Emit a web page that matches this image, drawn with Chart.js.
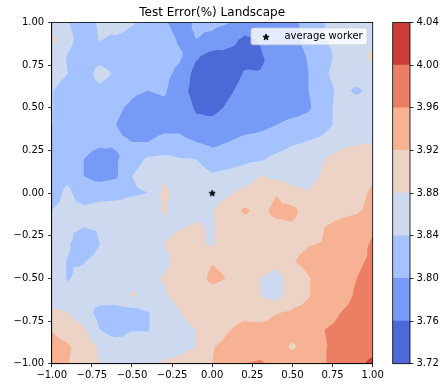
<!DOCTYPE html>
<html>
<head>
<meta charset="utf-8">
<script src="https://cdn.jsdelivr.net/npm/chart.js@4.4.0/dist/chart.umd.min.js"></script>
<style>
  html, body { margin: 0; padding: 0; background: #fff; }
  #wrap { position: relative; width: 441px; height: 385px; }
  #main { position: absolute; left: 0; top: 0; }
  #cbar { position: absolute; left: 380px; top: 0; }
</style>
</head>
<body>
<div id="wrap">
  <canvas id="main" width="441" height="385"></canvas>
  <canvas id="cbar" width="61" height="385"></canvas>
</div>
<script>
// Sample grid of the loss landscape (step 0.1 on both directions)
const gridX = [-1.0, -0.9, -0.8, -0.7, -0.6, -0.5, -0.4, -0.3, -0.2, -0.1, 0.0, 0.1, 0.2, 0.3, 0.4, 0.5, 0.6, 0.7, 0.8, 0.9, 1.0];
const gridY = [1.0, 0.9, 0.8, 0.7, 0.6, 0.5, 0.4, 0.3, 0.2, 0.1, 0.0, -0.1, -0.2, -0.3, -0.4, -0.5, -0.6, -0.7, -0.8, -0.9, -1.0];

// Test error (%) at each grid point; one row per gridY value, one column per gridX value
const testError = [
  [3.860, 3.842, 3.820, 3.845, 3.870, 3.845, 3.820, 3.805, 3.785, 3.805, 3.810, 3.802, 3.775, 3.780, 3.780, 3.790, 3.815, 3.840, 3.855, 3.860, 3.850],
  [3.890, 3.850, 3.825, 3.842, 3.830, 3.820, 3.820, 3.815, 3.795, 3.800, 3.790, 3.770, 3.755, 3.762, 3.780, 3.790, 3.810, 3.838, 3.855, 3.860, 3.865],
  [3.860, 3.838, 3.820, 3.825, 3.820, 3.815, 3.810, 3.815, 3.805, 3.765, 3.745, 3.750, 3.752, 3.757, 3.772, 3.790, 3.802, 3.825, 3.855, 3.865, 3.890],
  [3.855, 3.840, 3.820, 3.855, 3.835, 3.810, 3.805, 3.810, 3.790, 3.745, 3.740, 3.745, 3.762, 3.761, 3.760, 3.785, 3.800, 3.835, 3.855, 3.860, 3.860],
  [3.842, 3.825, 3.820, 3.830, 3.815, 3.805, 3.800, 3.805, 3.775, 3.745, 3.740, 3.755, 3.770, 3.775, 3.780, 3.785, 3.800, 3.825, 3.850, 3.834, 3.850],
  [3.842, 3.820, 3.815, 3.810, 3.805, 3.795, 3.785, 3.790, 3.785, 3.755, 3.750, 3.765, 3.775, 3.780, 3.780, 3.785, 3.795, 3.825, 3.855, 3.860, 3.860],
  [3.842, 3.820, 3.815, 3.810, 3.800, 3.790, 3.785, 3.790, 3.790, 3.770, 3.770, 3.780, 3.785, 3.790, 3.800, 3.810, 3.815, 3.830, 3.850, 3.855, 3.860],
  [3.830, 3.820, 3.815, 3.810, 3.805, 3.800, 3.800, 3.810, 3.810, 3.800, 3.790, 3.800, 3.810, 3.815, 3.820, 3.835, 3.842, 3.850, 3.870, 3.875, 3.878],
  [3.825, 3.820, 3.800, 3.780, 3.795, 3.825, 3.845, 3.850, 3.842, 3.840, 3.820, 3.825, 3.830, 3.835, 3.850, 3.860, 3.865, 3.880, 3.895, 3.900, 3.905],
  [3.825, 3.830, 3.800, 3.790, 3.795, 3.840, 3.855, 3.875, 3.860, 3.855, 3.845, 3.850, 3.860, 3.882, 3.870, 3.865, 3.870, 3.885, 3.895, 3.905, 3.915],
  [3.820, 3.850, 3.815, 3.820, 3.825, 3.835, 3.840, 3.890, 3.860, 3.860, 3.865, 3.875, 3.890, 3.900, 3.918, 3.890, 3.882, 3.895, 3.900, 3.910, 3.925],
  [3.840, 3.850, 3.850, 3.860, 3.860, 3.860, 3.865, 3.883, 3.865, 3.870, 3.878, 3.900, 3.925, 3.910, 3.930, 3.930, 3.900, 3.905, 3.910, 3.915, 3.930],
  [3.855, 3.850, 3.840, 3.845, 3.860, 3.865, 3.865, 3.870, 3.878, 3.884, 3.876, 3.900, 3.905, 3.910, 3.910, 3.915, 3.905, 3.920, 3.930, 3.935, 3.955],
  [3.855, 3.845, 3.810, 3.840, 3.860, 3.865, 3.870, 3.880, 3.895, 3.885, 3.877, 3.900, 3.905, 3.910, 3.905, 3.910, 3.918, 3.922, 3.940, 3.945, 3.965],
  [3.860, 3.838, 3.838, 3.855, 3.860, 3.865, 3.870, 3.870, 3.895, 3.900, 3.918, 3.910, 3.900, 3.900, 3.895, 3.918, 3.930, 3.940, 3.940, 3.955, 3.965],
  [3.860, 3.838, 3.850, 3.860, 3.865, 3.870, 3.875, 3.882, 3.895, 3.900, 3.930, 3.918, 3.900, 3.880, 3.865, 3.900, 3.918, 3.935, 3.945, 3.960, 3.970],
  [3.855, 3.850, 3.855, 3.860, 3.865, 3.883, 3.870, 3.877, 3.890, 3.900, 3.900, 3.900, 3.900, 3.880, 3.865, 3.900, 3.918, 3.935, 3.945, 3.965, 3.970],
  [3.890, 3.880, 3.860, 3.825, 3.820, 3.825, 3.838, 3.860, 3.880, 3.895, 3.900, 3.905, 3.910, 3.900, 3.918, 3.925, 3.930, 3.940, 3.960, 3.970, 3.975],
  [3.918, 3.900, 3.885, 3.840, 3.815, 3.838, 3.838, 3.860, 3.870, 3.880, 3.900, 3.918, 3.930, 3.935, 3.935, 3.935, 3.940, 3.960, 3.970, 3.975, 3.980],
  [3.935, 3.925, 3.900, 3.875, 3.870, 3.860, 3.860, 3.865, 3.870, 3.880, 3.918, 3.930, 3.935, 3.945, 3.935, 3.915, 3.935, 3.958, 3.970, 3.980, 3.985],
  [3.935, 3.922, 3.900, 3.880, 3.870, 3.865, 3.875, 3.884, 3.890, 3.900, 3.920, 3.935, 3.960, 3.965, 3.945, 3.940, 3.945, 3.958, 3.980, 3.990, 4.010]
];

// Contour levels and the fill colour of each band between them
const levels = [3.72, 3.76, 3.80, 3.84, 3.88, 3.92, 3.96, 4.00, 4.04];
const bandColors = ['#4d68d7', '#779af7', '#a3c2ff', '#ccd9ee', '#ecd3c5', '#f7b193', '#ec7f63', '#cb3e38'];

// Axis tick positions
const axisTicks = [-1.0, -0.75, -0.5, -0.25, 0.0, 0.25, 0.5, 0.75, 1.0];

// The averaged worker's position
const workerX = [0.0];
const workerY = [0.0];

const FONT = '"DejaVu Sans", "Liberation Sans", sans-serif';
const fmt = v => (Math.abs(v) < 1e-9 ? 0 : v).toFixed(2).replace('-', '\u2212');

// Filled five-pointed star used as the marker
const starMarker = (() => {
  const c = document.createElement('canvas');
  c.width = 10; c.height = 10;
  const g = c.getContext('2d');
  g.beginPath();
  for (let k = 0; k < 10; k++) {
    const r = k % 2 === 0 ? 3.3 : 3.3 * 0.381966;
    const a = -Math.PI / 2 + k * Math.PI / 5;
    const px = 5 + r * Math.cos(a), py = 5.3 + r * Math.sin(a);
    if (k === 0) g.moveTo(px, py); else g.lineTo(px, py);
  }
  g.closePath();
  g.fillStyle = '#000'; g.fill();
  g.lineWidth = 0.9; g.strokeStyle = '#000'; g.stroke();
  return c;
})();

// Keep the part of a triangle whose linearly interpolated value is >= t
function clipAbove(poly, t) {
  const out = [];
  for (let k = 0; k < poly.length; k++) {
    const a = poly[k], b = poly[(k + 1) % poly.length];
    const ina = a[2] >= t, inb = b[2] >= t;
    if (ina) out.push(a);
    if (ina !== inb) {
      const f = (t - a[2]) / (b[2] - a[2]);
      out.push([a[0] + f * (b[0] - a[0]), a[1] + f * (b[1] - a[1]), t]);
    }
  }
  return out;
}

// Filled contours, drawn band by band (each band covers everything above its lower level)
const filledContour = {
  id: 'filledContour',
  beforeDraw(chart) {
    const { ctx, chartArea: area, scales: { x, y } } = chart;
    ctx.save();
    ctx.beginPath();
    ctx.rect(area.left, area.top, area.right - area.left, area.bottom - area.top);
    ctx.clip();
    for (let b = 0; b < bandColors.length; b++) {
      const t = levels[b];
      ctx.beginPath();
      for (let j = 0; j < gridY.length - 1; j++) {
        for (let i = 0; i < gridX.length - 1; i++) {
          const p00 = [gridX[i], gridY[j], testError[j][i]];
          const p10 = [gridX[i + 1], gridY[j], testError[j][i + 1]];
          const p11 = [gridX[i + 1], gridY[j + 1], testError[j + 1][i + 1]];
          const p01 = [gridX[i], gridY[j + 1], testError[j + 1][i]];
          const c = [(p00[0] + p10[0]) / 2, (p00[1] + p01[1]) / 2,
                     (p00[2] + p10[2] + p11[2] + p01[2]) / 4];
          const tris = [[p00, p10, c], [p10, p11, c], [p11, p01, c], [p01, p00, c]];
          for (const tri of tris) {
            const poly = clipAbove(tri, t);
            if (poly.length < 3) continue;
            poly.forEach((p, k) => {
              const px = x.getPixelForValue(p[0]), py = y.getPixelForValue(p[1]);
              if (k === 0) ctx.moveTo(px, py); else ctx.lineTo(px, py);
            });
            ctx.closePath();
          }
        }
      }
      ctx.fillStyle = bandColors[b];
      ctx.fill();
    }
    ctx.restore();
  }
};

// Black box around the plotting area
const frame = {
  id: 'frame',
  afterDraw(chart) {
    const { ctx, chartArea: a } = chart;
    ctx.save();
    ctx.strokeStyle = '#000';
    ctx.lineWidth = 0.8;
    ctx.strokeRect(a.left, a.top, a.right - a.left, a.bottom - a.top);
    ctx.restore();
  }
};

// Legend box in the upper-right corner of the axes
const cornerLegend = {
  id: 'cornerLegend',
  afterDraw(chart) {
    const { ctx, chartArea: a } = chart;
    const ds = chart.data.datasets[0];
    ctx.save();
    ctx.font = '10px ' + FONT;
    const tw = ctx.measureText(ds.label).width;
    const right = a.right - 5.5, top = a.top + 5.5, h = 16.8;
    const w = tw + 38;
    const left = right - w, r = 2;
    ctx.beginPath();
    ctx.moveTo(left + r, top);
    ctx.lineTo(right - r, top); ctx.arcTo(right, top, right, top + r, r);
    ctx.lineTo(right, top + h - r); ctx.arcTo(right, top + h, right - r, top + h, r);
    ctx.lineTo(left + r, top + h); ctx.arcTo(left, top + h, left, top + h - r, r);
    ctx.lineTo(left, top + r); ctx.arcTo(left, top, left + r, top, r);
    ctx.closePath();
    ctx.globalAlpha = 0.8;
    ctx.fillStyle = '#fff'; ctx.fill();
    ctx.lineWidth = 0.8; ctx.strokeStyle = '#cccccc'; ctx.stroke();
    ctx.globalAlpha = 1;
    const img = ds.pointStyle;
    ctx.drawImage(img, left + 15 - img.width / 2, top + h / 2 + 0.5 - img.height / 2);
    ctx.fillStyle = '#000';
    ctx.textAlign = 'left';
    ctx.textBaseline = 'alphabetic';
    ctx.fillText(ds.label, left + 33.5, top + 11);
    ctx.restore();
  }
};

const tickFont = { family: FONT, size: 10 };
const axisOpts = (fitKey, fitSize) => ({
  type: 'linear',
  min: -1, max: 1,
  afterBuildTicks: s => { s.ticks = axisTicks.map(v => ({ value: v })); },
  afterFit: s => { s[fitKey] = fitSize; },
  ticks: { callback: v => fmt(v), font: tickFont, color: '#000', maxRotation: 0, autoSkip: false },
  grid: { drawOnChartArea: false, drawTicks: true, tickLength: 3.5, color: '#000', lineWidth: 0.8 },
  border: { display: true, color: '#000', width: 0.8 }
});

const xOpts = axisOpts('height', 21.3);
xOpts.ticks.padding = 2.5;
const yOpts = axisOpts('width', 51.7);
yOpts.ticks.padding = 4;

new Chart(document.getElementById('main'), {
  type: 'scatter',
  data: {
    datasets: [{
      label: 'average worker',
      data: workerX.map((v, i) => ({ x: v, y: workerY[i] })),
      pointStyle: starMarker,
      pointRadius: 4,
      clip: false
    }]
  },
  options: {
    responsive: false,
    animation: false,
    events: [],
    layout: { padding: { left: 0, right: 68.3, top: 0, bottom: 0 } },
    scales: { x: xOpts, y: yOpts },
    plugins: {
      legend: { display: false },
      tooltip: { enabled: false },
      title: {
        display: true,
        text: 'Test Error(%) Landscape',
        fullSize: false,
        color: '#000',
        font: { family: FONT, size: 12, weight: 'normal' },
        padding: { top: 5.35, bottom: 2.75 }
      }
    }
  },
  plugins: [filledContour, frame, cornerLegend]
});

// Colour bar: one floating bar per contour band
new Chart(document.getElementById('cbar'), {
  type: 'bar',
  data: {
    labels: ['band'],
    datasets: bandColors.map((col, i) => ({
      data: [[levels[i], levels[i + 1]]],
      backgroundColor: col,
      borderWidth: 0,
      grouped: false,
      barPercentage: 1,
      categoryPercentage: 1
    }))
  },
  options: {
    responsive: false,
    animation: false,
    events: [],
    layout: { padding: { left: 12.7, right: 0, top: 22.5, bottom: 21.3 } },
    scales: {
      x: { display: false },
      y: {
        position: 'right',
        min: levels[0], max: levels[levels.length - 1],
        afterBuildTicks: s => { s.ticks = levels.map(v => ({ value: v })); },
        afterFit: s => { s.width = 31; },
        ticks: { callback: v => v.toFixed(2), font: tickFont, color: '#000', padding: 3, autoSkip: false },
        grid: { drawOnChartArea: false, drawTicks: true, tickLength: 3.5, color: '#000', lineWidth: 0.8 },
        border: { display: true, color: '#000', width: 0.8 }
      }
    },
    plugins: { legend: { display: false }, tooltip: { enabled: false } }
  },
  plugins: [frame]
});
</script>
</body>
</html>
